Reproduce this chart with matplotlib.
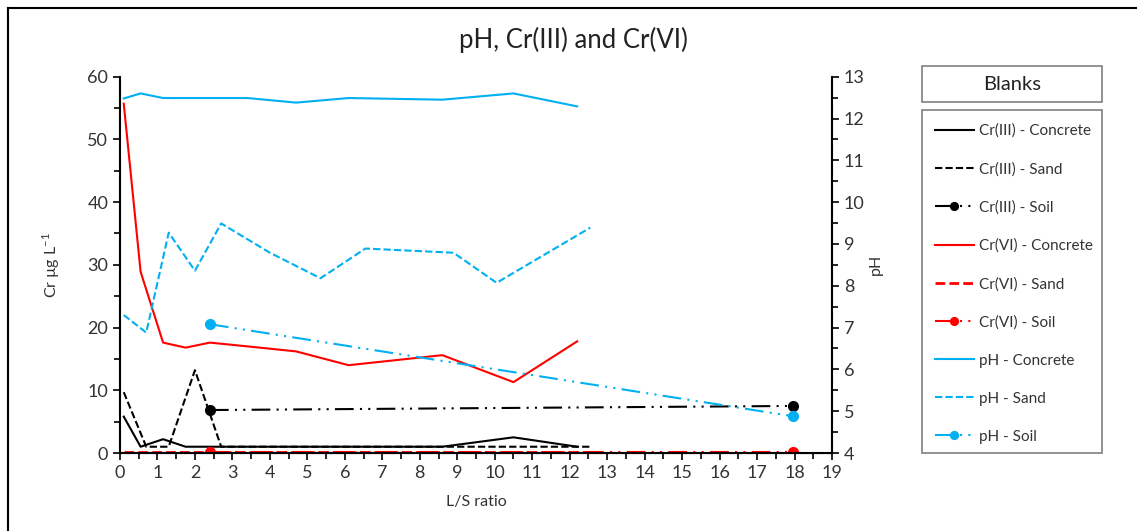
import numpy as np
from matplotlib import pyplot as plt
from matplotlib.lines import Line2D
from matplotlib.patches import Rectangle
from matplotlib.ticker import MultipleLocator

plt.rcParams['font.family'] = ['Lato', 'DejaVu Sans']
plt.rcParams['font.size'] = 11

# L/S ratio for each material
lsConcrete = [0.1, 0.55, 1.15, 1.75, 2.4, 3.4, 4.7, 6.1, 8.6, 10.5, 12.2]
lsSand = [0.1, 0.7, 1.3, 2.0, 2.7, 4.0, 5.35, 6.55, 8.9, 10.05, 12.55]
lsSoil = [2.4, 17.95]

# Cr(III) ug/L
cr3Concrete = [5.8, 1.0, 2.2, 1.0, 1.0, 1.0, 1.0, 1.0, 1.0, 2.5, 1.0]
cr3Sand = [9.7, 1.0, 1.0, 13.2, 1.0, 1.0, 1.0, 1.0, 1.0, 1.0, 1.0]
cr3Soil = [6.85, 7.5]

# Cr(VI) ug/L
cr6Concrete = [55.7, 28.9, 17.6, 16.8, 17.6, 17.0, 16.2, 14.0, 15.6, 11.3, 17.8]
cr6Sand = [0.2, 0.2, 0.2, 0.2, 0.2, 0.2, 0.2, 0.2, 0.2, 0.2, 0.2]
cr6Soil = [0.2, 0.2]

# pH
phConcrete = [12.48, 12.6, 12.49, 12.49, 12.49, 12.49, 12.38, 12.49, 12.45, 12.6, 12.29]
phSand = [7.3, 6.88, 9.27, 8.36, 9.49, 8.79, 8.18, 8.89, 8.79, 8.07, 9.39]
phSoil = [7.08, 4.88]

blue = '#00B0F0'
red = '#FF0000'
lw = 1.5
dashed = (0, (3.5, 1.5))
soilStyle = (0, (9, 3, 1, 3, 1, 3))

W, H = 1137, 531
fig = plt.figure(figsize=(W / 100, H / 100), dpi=100)
ax = fig.add_axes([120 / W, 1 - 453 / H, (832 - 120) / W, (453 - 76.7) / H])
ax2 = ax.twinx()

ax.plot(lsConcrete, cr3Concrete, color='k', lw=lw, label='Cr(III) - Concrete')
ax.plot(lsSand, cr3Sand, color='k', lw=lw, ls=dashed, label='Cr(III) - Sand')
ax.plot(lsSoil, cr3Soil, color='k', lw=lw, ls=soilStyle, marker='o', ms=7, label='Cr(III) - Soil')
ax.plot(lsConcrete, cr6Concrete, color=red, lw=lw, label='Cr(VI) - Concrete')
ax.plot(lsSand, cr6Sand, color=red, lw=2, ls=dashed, label='Cr(VI) - Sand')
ax.plot(lsSoil, cr6Soil, color=red, lw=lw, ls=soilStyle, marker='o', ms=7, label='Cr(VI) - Soil')
ax2.plot(lsConcrete, phConcrete, color=blue, lw=lw, label='pH - Concrete')
ax2.plot(lsSand, phSand, color=blue, lw=lw, ls=dashed, label='pH - Sand')
ax2.plot(lsSoil, phSoil, color=blue, lw=lw, ls=soilStyle, marker='o', ms=7, label='pH - Soil')

ax.set_xlim(0, 19)
ax.set_ylim(0, 60)
ax2.set_ylim(4, 13)
ax.xaxis.set_major_locator(MultipleLocator(1))
ax.xaxis.set_minor_locator(MultipleLocator(0.5))
ax.yaxis.set_major_locator(MultipleLocator(10))
ax.yaxis.set_minor_locator(MultipleLocator(5))
ax2.yaxis.set_major_locator(MultipleLocator(1))
ax2.yaxis.set_minor_locator(MultipleLocator(0.5))

for a in (ax, ax2):
    a.spines['top'].set_visible(False)
    a.tick_params(which='major', length=5, width=1.2, labelsize=13, color='k', labelcolor='#333333')
    a.tick_params(which='minor', length=4, width=1.2, color='k')
ax.spines['right'].set_visible(False)
ax2.spines['left'].set_visible(False)
for s in ('left', 'bottom'):
    ax.spines[s].set_linewidth(1.5)
ax2.spines['right'].set_linewidth(1.5)

ax.set_xlabel('L/S ratio', fontsize=11.5, color='#333333')
ax.set_ylabel('Cr µg L$^{\\mathregular{-1}}$', fontsize=11.5, color='#333333')
ax2.set_ylabel('pH', fontsize=11.5, color='#333333')
ax.xaxis.set_label_coords(0.5, -0.112)
ax.yaxis.set_label_coords(-0.081, 0.5)
ax2.yaxis.set_label_coords(1.052, 0.5)
fig.text(573 / W, 1 - 40 / H, 'pH, Cr(III) and Cr(VI)', ha='center', va='center', fontsize=18.5, color='#222222')

# outer frame (left and top only)
fig.add_artist(Line2D([8 / W, 8 / W], [0, 1 - 8 / H], color='k', lw=1.5, transform=fig.transFigure))
fig.add_artist(Line2D([8 / W, 1], [1 - 8 / H, 1 - 8 / H], color='k', lw=1.5, transform=fig.transFigure))

# legend boxes
fig.add_artist(Rectangle((922 / W, 1 - 102 / H), 180 / W, 36 / H, fill=False, edgecolor='#7f7f7f', lw=1.2, transform=fig.transFigure))
fig.text(1012 / W, 1 - 85 / H, 'Blanks', ha='center', va='center', fontsize=14.5, color='#222222')
fig.add_artist(Rectangle((922 / W, 1 - 453 / H), 180 / W, 343 / H, fill=False, edgecolor='#7f7f7f', lw=1.2, transform=fig.transFigure))

h1, l1 = ax.get_legend_handles_labels()
h2, l2 = ax2.get_legend_handles_labels()
leg = ax.legend(h1 + h2, l1 + l2, loc='upper left', bbox_to_anchor=(927 / W, 1 - 116 / H),
                bbox_transform=fig.transFigure, frameon=False, fontsize=11, handlelength=2.6,
                handletextpad=0.3, labelspacing=1.57, markerscale=0.8, borderpad=0)
for t in leg.get_texts():
    t.set_color('#333333')

fig.savefig('out.png', dpi=100)
